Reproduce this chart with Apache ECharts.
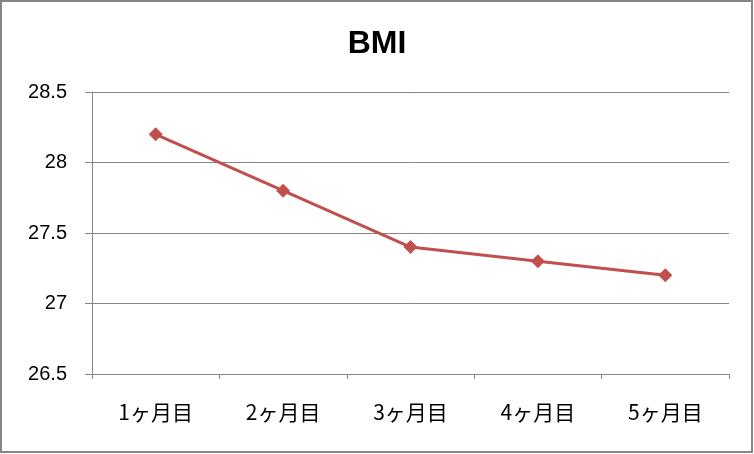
<!DOCTYPE html>
<html><head><meta charset="utf-8">
<script src="https://cdn.jsdelivr.net/npm/echarts@6/dist/echarts.min.js"></script>
<style>html,body{margin:0;padding:0;background:#fff}#c{width:754px;height:454px}</style>
</head><body><div id="c"></div>
<script>
const categories = ['1ヶ月目','2ヶ月目','3ヶ月目','4ヶ月目','5ヶ月目'];
const bmiValues = [28.2, 27.8, 27.4, 27.3, 27.2];
const yMin = 26.5, yMax = 28.5, yStep = 0.5;
const chart = echarts.init(document.getElementById('c'), null, {renderer:'canvas'});
chart.setOption({
  backgroundColor:'#fff',
  animation:false,
  graphic:[{type:'rect',shape:{x:1,y:1,width:751,height:451},style:{fill:'none',stroke:'#868686',lineWidth:2},silent:true}],
  title:{text:'BMI',left:'center',top:23,textStyle:{fontFamily:'Liberation Sans, Arial, sans-serif',fontWeight:'bold',fontSize:32,color:'#000'}},
  grid:{left:92,right:25,top:92,bottom:80,containLabel:false},
  xAxis:{type:'category',data:categories,boundaryGap:true,
    axisLine:{lineStyle:{color:'#868686',width:1}},
    axisTick:{show:true,inside:false,length:5,alignWithLabel:false,lineStyle:{color:'#868686'}},
    axisLabel:{margin:28,fontSize:21,color:'#000',fontFamily:'"Noto Sans CJK JP", sans-serif'}},
  yAxis:{type:'value',min:yMin,max:yMax,interval:yStep,
    axisLine:{show:true,lineStyle:{color:'#868686',width:1}},
    axisTick:{show:true,length:7,lineStyle:{color:'#868686'}},
    splitLine:{show:true,lineStyle:{color:'#868686',width:1}},
    axisLabel:{margin:25,fontSize:20,color:'#000',fontFamily:'Liberation Sans, Arial, sans-serif'}},
  series:[{type:'line',data:bmiValues,symbol:'diamond',symbolSize:14,
    lineStyle:{color:'#C0504D',width:3},itemStyle:{color:'#C0504D'}}]
});
</script></body></html>
